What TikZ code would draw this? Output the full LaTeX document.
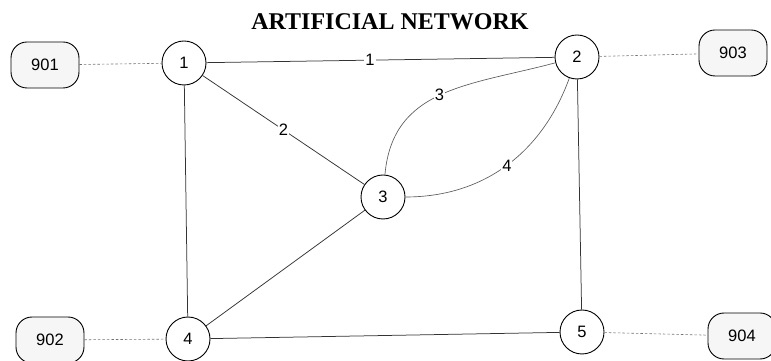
\documentclass[tikz,border=0pt]{standalone}
\usepackage{fontspec}
\setmainfont{Liberation Serif}
\newfontfamily\arialfont{Liberation Sans}
\usetikzlibrary{arrows.meta,positioning,calc}

\begin{document}
\begin{tikzpicture}[
  x=1pt, y=1pt,
  font=\arialfont\fontsize{16.5}{18}\selectfont,
  site/.style={draw, circle, minimum size=44pt, inner sep=0pt, line width=0.9pt},
  term/.style={draw, rounded corners=16pt, minimum width=68pt, minimum height=46pt, fill=gray!7, line width=0.9pt},
  link/.style={line width=0.75pt, draw=black!80},
  arc/.style={line width=0.65pt, draw=black!65},
  tail/.style={line width=0.6pt, draw=black!55, dash pattern=on 2.5pt off 2pt},
  lbl/.style={fill=white, inner sep=1pt}
]
\useasboundingbox (0,0) rectangle (771,361);

% title
\node[font=\rmfamily\bfseries\fontsize{24}{26}\selectfont] (title) at (390,339) {ARTIFICIAL NETWORK};

% switching sites
\node[site] (s1) at (184,298) {1};
\node[site] (s2) at (577,304) {2};
\node[site] (s3) at (383,164) {3};
\node[site] (s4) at (188,22) {4};
\node[site] (s5) at (582,29) {5};

% terminals
\node[term] (t901) at (45,296) {901};
\node[term] (t902) at (50,21) {902};
\node[term] (t903) at (733,308) {903};
\node[term] (t904) at (742,25) {904};

% trunks
\draw[link] (s1) -- node[lbl, pos=0.47] {1} (s2);
\draw[link] (s1) -- node[lbl, pos=0.5] {2} (s3);
\draw[arc] (s3) to[out=85, in=195, looseness=1.1] node[lbl, pos=0.49] {3} (s2);
\draw[arc] (s3) to[out=0, in=250] node[lbl, pos=0.5] {4} (s2);
\draw[link] (s1) -- (s4);
\draw[link] (s3) -- (s4);
\draw[link] (s4) -- (s5);
\draw[link] (s2) -- (s5);

% access lines
\draw[tail] (t901) -- (s1);
\draw[tail] (s2) -- (t903);
\draw[tail] (t902) -- (s4);
\draw[tail] (s5) -- (t904);

\end{tikzpicture}
\end{document}
